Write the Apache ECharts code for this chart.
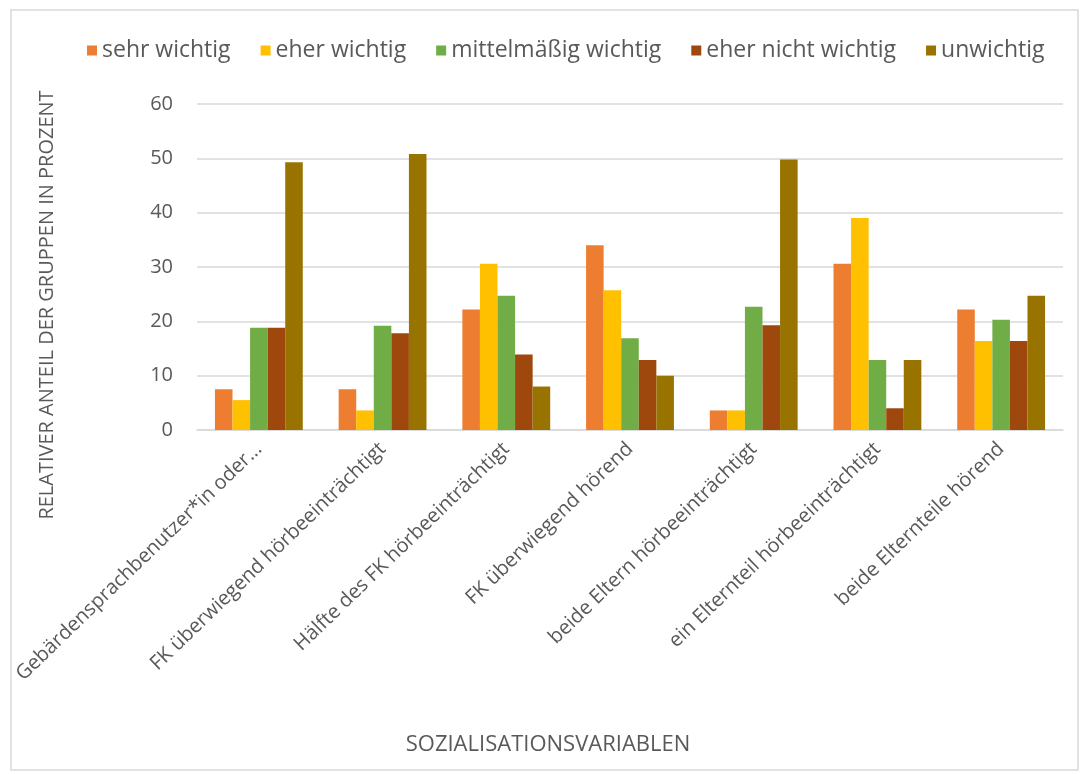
<!DOCTYPE html>
<html><head><meta charset="utf-8">
<script src="https://cdn.jsdelivr.net/npm/echarts@6/dist/echarts.min.js"></script>
<style>html,body{margin:0;padding:0;background:#fff}#c{width:1089px;height:774px}</style>
</head><body><div id="c"></div>
<script>
const categories = ["Gebärdensprachbenutzer*in oder...", "FK überwiegend hörbeeinträchtigt", "Hälfte des FK hörbeeinträchtigt", "FK überwiegend hörend", "beide Eltern hörbeeinträchtigt", "ein Elternteil hörbeeinträchtigt", "beide Elternteile hörend"];
const seriesNames = ["sehr wichtig", "eher wichtig", "mittelmäßig wichtig", "eher nicht wichtig", "unwichtig"];
const sehrWichtig = [7.5, 7.5, 22.2, 34.0, 3.6, 30.6, 22.2];
const eherWichtig = [5.5, 3.6, 30.6, 25.7, 3.6, 39.0, 16.4];
const mittelWichtig = [18.8, 19.2, 24.7, 16.9, 22.7, 12.9, 20.3];
const eherNichtWichtig = [18.8, 17.8, 13.9, 12.9, 19.3, 4.0, 16.4];
const unwichtig = [49.3, 50.8, 8.0, 10.0, 49.8, 12.9, 24.7];
const yTicks = [0, 10, 20, 30, 40, 50, 60];
const colors = ["#ED7D31", "#FFC000", "#70AD47", "#9E480E", "#997300"];
const values = [sehrWichtig, eherWichtig, mittelWichtig, eherNichtWichtig, unwichtig];
const font = "'Open Sans', Lato, sans-serif";
const chart = echarts.init(document.getElementById('c'));
chart.setOption({
  animation: false,
  color: colors,
  textStyle: {fontFamily: font},
  graphic: [
    {type: 'rect', shape: {x: 11, y: 10, width: 1067, height: 760}, style: {fill: 'none', stroke: '#d9d9d9', lineWidth: 1.5}},
    {type: 'text', x: 47, y: 305, rotation: Math.PI/2, style: {text: 'RELATIVER ANTEIL DER GRUPPEN IN PROZENT', fill: '#595959', font: '20px ' + font, align: 'center', verticalAlign: 'middle'}},
    {type: 'text', x: 548, y: 745, style: {text: 'SOZIALISATIONSVARIABLEN', fill: '#595959', font: '22px ' + font, align: 'center', verticalAlign: 'middle'}}
  ],
  legend: {
    top: 34, left: 82, itemWidth: 10, itemHeight: 10, itemGap: 30, itemTextGap: 8,
    icon: 'rect',
    textStyle: {fontSize: 23, color: '#595959', fontFamily: font},
    data: seriesNames
  },
  grid: {left: 197, right: 26, top: 104, bottom: 344},
  xAxis: {
    type: 'category', data: categories,
    axisLine: {lineStyle: {color: '#d9d9d9', width: 1.5}},
    axisTick: {show: false},
    axisLabel: {rotate: 44, fontSize: 20, color: '#595959', margin: 16, interval: 0}
  },
  yAxis: {
    type: 'value', min: 0, max: 60, interval: 10,
    axisLine: {show: false}, axisTick: {show: false},
    axisLabel: {fontSize: 20, color: '#595959', margin: 24, formatter: v => yTicks.includes(v) ? String(v) : ''},
    splitLine: {lineStyle: {color: '#d9d9d9', width: 1.5}}
  },
  series: seriesNames.map((n, i) => ({
    name: n, type: 'bar', data: values[i], barGap: '0%', barCategoryGap: '29%',
    itemStyle: {color: colors[i]}
  }))
});
</script></body></html>
